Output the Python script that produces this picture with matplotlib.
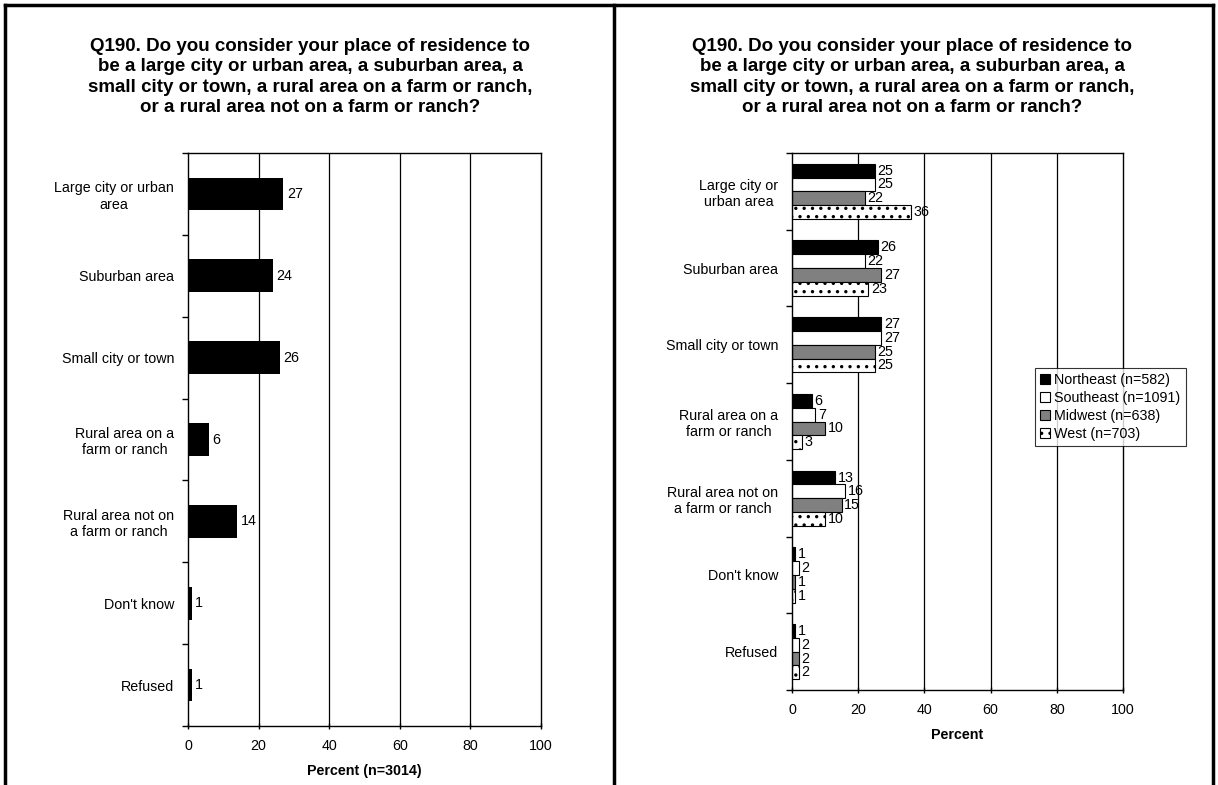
import matplotlib.pyplot as plt
from matplotlib.lines import Line2D
import numpy as np

plt.rcParams['font.family'] = ['Liberation Sans', 'DejaVu Sans']
plt.rcParams['hatch.linewidth'] = 1.2

title = ("Q190. Do you consider your place of residence to\n"
         "be a large city or urban area, a suburban area, a\n"
         "small city or town, a rural area on a farm or ranch,\n"
         "or a rural area not on a farm or ranch?")

left_cats = ["Large city or urban\narea", "Suburban area", "Small city or town",
             "Rural area on a\nfarm or ranch", "Rural area not on\na farm or ranch",
             "Don't know", "Refused"]
right_cats = ["Large city or\nurban area", "Suburban area", "Small city or town",
              "Rural area on a\nfarm or ranch", "Rural area not on\na farm or ranch",
              "Don't know", "Refused"]
total_vals = [27, 24, 26, 6, 14, 1, 1]

region_names = ["Northeast (n=582)", "Southeast (n=1091)", "Midwest (n=638)", "West (n=703)"]
northeast = [25, 26, 27, 6, 13, 1, 1]
southeast = [25, 22, 27, 7, 16, 2, 2]
midwest = [22, 27, 25, 10, 15, 1, 2]
west = [36, 23, 25, 3, 10, 1, 2]

fig = plt.figure(figsize=(12.18, 7.85), dpi=100)
FS = 10.3

def style_axis(ax, labels):
    n = len(labels)
    ax.set_xlim(0, 100)
    ax.set_ylim(n - 0.5, -0.5)
    ax.set_xticks([0, 20, 40, 60, 80, 100])
    ax.tick_params(axis='x', labelsize=FS, length=5, direction='inout', width=1, pad=7)
    ax.set_yticks(np.arange(n))
    ax.set_yticklabels(labels, fontsize=FS, ha='right', multialignment='center')
    ax.tick_params(axis='y', length=0, pad=10)
    ax.set_yticks(np.arange(n + 1) - 0.5, minor=True)
    ax.tick_params(axis='y', which='minor', length=4, direction='out', width=1)
    for x in [20, 40, 60, 80]:
        ax.axvline(x, color='black', lw=0.9, zorder=0)
    for s in ax.spines.values():
        s.set_linewidth(1.0)

# left panel
ax1 = fig.add_axes([188 / 1218, 1 - 726 / 785, 353 / 1218, 573 / 785])
y = np.arange(len(left_cats))
ax1.barh(y, total_vals, height=0.4, color='black', zorder=2)
for yi, v in zip(y, total_vals):
    ax1.text(v + 1, yi, str(v), va='center', ha='left', fontsize=FS)
style_axis(ax1, left_cats)
ax1.set_xlabel("Percent (n=3014)", fontsize=FS, fontweight='bold', labelpad=8)

# right panel
ax2 = fig.add_axes([792 / 1218, 1 - 690 / 785, 331 / 1218, 537 / 785])
bh = 0.18
series = [northeast, southeast, midwest, west]
faces = ['black', 'white', '#808080', 'white']
hatches = [None, None, None, '..']
y = np.arange(len(right_cats))
for i, (vals, fc, h, name) in enumerate(zip(series, faces, hatches, region_names)):
    pos = y + (i - 1.5) * bh
    ax2.barh(pos, vals, height=bh, color=fc, edgecolor='black', lw=0.8,
             hatch=h, label=name, zorder=2)
    for p, v in zip(pos, vals):
        ax2.text(v + 0.8, p, str(v), va='center', ha='left', fontsize=FS)
style_axis(ax2, right_cats)
ax2.set_xlabel("Percent", fontsize=FS, fontweight='bold', labelpad=8)
leg = ax2.legend(loc='center left', bbox_to_anchor=(1035 / 1218, 1 - 407 / 785),
                 bbox_transform=fig.transFigure, fontsize=FS,
                 frameon=True, fancybox=False, edgecolor='black',
                 handlelength=0.7, handleheight=0.7, handletextpad=0.3,
                 borderpad=0.35, labelspacing=0.3, borderaxespad=0)
leg.get_frame().set_linewidth(0.8)

# titles
for cx in [310, 912]:
    fig.text(cx / 1218, 1 - 77 / 785, title, ha='center', va='center',
             fontsize=13.5, fontweight='bold', linespacing=1.26)

# panel frames
W, H = 1218, 785
for xs, ys in [([5, 1213], [5, 5]), ([5, 5], [5, 785]), ([614, 614], [5, 785]),
               ([1213, 1213], [5, 785])]:
    fig.add_artist(Line2D([x / W for x in xs], [1 - v / H for v in ys],
                          color='black', lw=2.5, transform=fig.transFigure))

fig.savefig('out.png', dpi=100)
